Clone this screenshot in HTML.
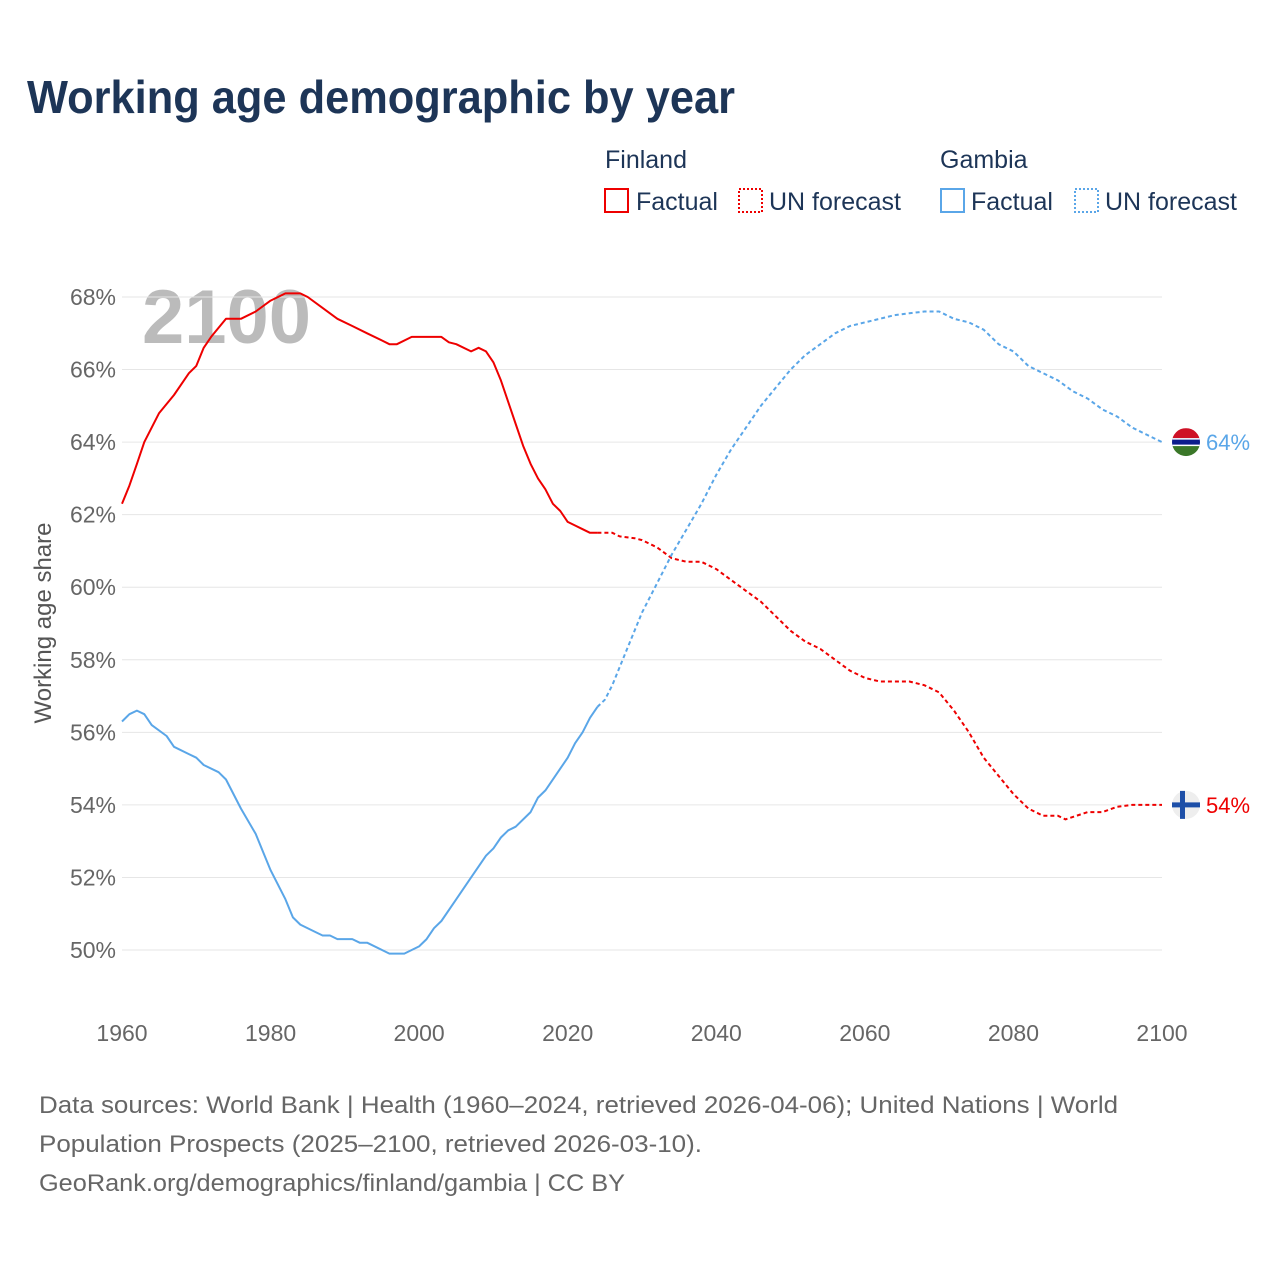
<!DOCTYPE html>
<html><head><meta charset="utf-8"><style>
body{margin:0;background:#fff;font-family:"Liberation Sans",sans-serif}
#wrap{position:relative;width:1280px;height:1280px}
</style></head><body>
<div id="wrap">
<svg id="svg" width="1280" height="1280" xmlns="http://www.w3.org/2000/svg">
<text x="27" y="113" font-size="46" font-weight="bold" fill="#1d3557" textLength="708" lengthAdjust="spacingAndGlyphs">Working age demographic by year</text>
<g font-size="25" fill="#1d3557">
<text x="605" y="168">Finland</text>
<rect x="605" y="189" width="23" height="23" fill="none" stroke="#e00" stroke-width="2"/>
<text x="636" y="210">Factual</text>
<rect x="739" y="189" width="23" height="23" fill="none" stroke="#e00" stroke-width="2" stroke-dasharray="2,2"/>
<text x="769" y="210">UN forecast</text>
<text x="940" y="168">Gambia</text>
<rect x="941" y="189" width="23" height="23" fill="none" stroke="#5aa6e8" stroke-width="2"/>
<text x="971" y="210">Factual</text>
<rect x="1075" y="189" width="23" height="23" fill="none" stroke="#5aa6e8" stroke-width="2" stroke-dasharray="2,2"/>
<text x="1105" y="210">UN forecast</text>
</g>
<text transform="translate(51,623) rotate(-90)" text-anchor="middle" font-size="24" fill="#555">Working age share</text>
<text x="142" y="343" font-size="76" font-weight="bold" fill="#bbb">2100</text>
<g id="grid"></g><g id="lines"></g><g id="marks"></g>
<g font-size="24" fill="#666">
<text x="39" y="1113" textLength="1079" lengthAdjust="spacingAndGlyphs">Data sources: World Bank | Health (1960–2024, retrieved 2026-04-06); United Nations | World</text>
<text x="39" y="1152" textLength="663" lengthAdjust="spacingAndGlyphs">Population Prospects (2025–2100, retrieved 2026-03-10).</text>
<text x="39" y="1191" textLength="586" lengthAdjust="spacingAndGlyphs">GeoRank.org/demographics/finland/gambia | CC BY</text>
</g>
</svg></div>
<script>
const yTicks=[50,52,54,56,58,60,62,64,66,68];
const xTicks=[1960,1980,2000,2020,2040,2060,2080,2100];
const finFactYears=[1960,1961,1962,1963,1965,1967,1969,1970,1971,1972,1974,1976,1978,1980,1982,1984,1985,1987,1989,1991,1993,1995,1996,1997,1999,2001,2003,2004,2005,2007,2008,2009,2010,2011,2012,2013,2014,2015,2016,2017,2018,2019,2020,2021,2022,2023,2024];
const finFactVals=[62.3,62.8,63.4,64.0,64.8,65.3,65.9,66.1,66.6,66.9,67.4,67.4,67.6,67.9,68.1,68.1,68.0,67.7,67.4,67.2,67.0,66.8,66.7,66.7,66.9,66.9,66.9,66.75,66.7,66.5,66.6,66.5,66.2,65.7,65.1,64.5,63.9,63.4,63.0,62.7,62.3,62.1,61.8,61.7,61.6,61.5,61.5];
const finFcYears=[2024,2026,2027,2029,2030,2032,2034,2036,2038,2040,2042,2044,2046,2048,2050,2052,2054,2056,2058,2060,2062,2064,2066,2068,2070,2072,2074,2076,2078,2080,2082,2084,2086,2087,2090,2092,2094,2096,2100];
const finFcVals=[61.5,61.5,61.4,61.35,61.3,61.1,60.8,60.7,60.7,60.5,60.2,59.9,59.6,59.2,58.8,58.5,58.3,58.0,57.7,57.5,57.4,57.4,57.4,57.3,57.1,56.6,56.0,55.3,54.8,54.3,53.9,53.7,53.7,53.6,53.8,53.8,53.95,54.0,54.0];
const gamFactYears=[1960,1961,1962,1963,1964,1966,1967,1969,1970,1971,1973,1974,1976,1978,1979,1980,1982,1983,1984,1986,1987,1988,1989,1991,1992,1993,1995,1996,1998,2000,2001,2002,2003,2005,2007,2009,2010,2011,2012,2013,2015,2016,2017,2019,2020,2021,2022,2023,2024];
const gamFactVals=[56.3,56.5,56.6,56.5,56.2,55.9,55.6,55.4,55.3,55.1,54.9,54.7,53.9,53.2,52.7,52.2,51.4,50.9,50.7,50.5,50.4,50.4,50.3,50.3,50.2,50.2,50.0,49.9,49.9,50.1,50.3,50.6,50.8,51.4,52.0,52.6,52.8,53.1,53.3,53.4,53.8,54.2,54.4,55.0,55.3,55.7,56.0,56.4,56.7];
const gamFcYears=[2024,2025,2026,2028,2030,2032,2034,2036,2038,2040,2042,2044,2046,2048,2050,2052,2054,2056,2058,2060,2062,2064,2066,2068,2070,2072,2074,2076,2078,2080,2082,2084,2086,2088,2090,2092,2094,2096,2098,2100];
const gamFcVals=[56.7,56.9,57.3,58.3,59.3,60.1,60.9,61.6,62.3,63.1,63.8,64.4,65.0,65.5,66.0,66.4,66.7,67.0,67.2,67.3,67.4,67.5,67.55,67.6,67.6,67.4,67.3,67.1,66.7,66.5,66.1,65.9,65.7,65.4,65.2,64.9,64.7,64.4,64.2,64.0];
const X=y=>122+(y-1960)*(1040/140);
const Y=v=>950-(v-50)*(653/18);
const NS="http://www.w3.org/2000/svg";
function mk(tag,attrs,parent){const e=document.createElementNS(NS,tag);for(const k in attrs)e.setAttribute(k,attrs[k]);document.getElementById(parent).appendChild(e);return e;}
yTicks.forEach(t=>{
 const l=mk('line',{x1:122,x2:1162,y1:Y(t),y2:Y(t),stroke:'#e6e6e6','stroke-width':1},'grid');
 
 
 const tx=mk('text',{x:116,y:Y(t)+8,'text-anchor':'end','font-size':23,fill:'#666'},'grid');
 tx.textContent=t+'%';
 
 
});
xTicks.forEach(t=>{
 const tx=mk('text',{x:X(t),y:1041,'text-anchor':'middle','font-size':23,fill:'#666'},'grid');
 tx.textContent=t;
 
 
});
function line(xs,vs,color,dash,name){
 const d=xs.map((x,i)=>(i?'L':'M')+X(x).toFixed(1)+','+Y(vs[i]).toFixed(1)).join('');
 const p=mk('path',{d:d,fill:'none',stroke:color,'stroke-width':2,'stroke-linejoin':'round'},'lines');
 if(dash)p.setAttribute('stroke-dasharray',dash);
 
 
}
line(finFactYears,finFactVals,'#e00',null,'finland-factual-line');
line(finFcYears,finFcVals,'#e00','4,3','finland-forecast-line');
line(gamFactYears,gamFactVals,'#5aa6e8',null,'gambia-factual-line');
line(gamFcYears,gamFcVals,'#5aa6e8','4,3','gambia-forecast-line');
const gy=Y(gamFcVals[gamFcVals.length-1]), fy=Y(finFcVals[finFcVals.length-1]);
const g=mk('g',{},'marks');
g.innerHTML=`<clipPath id="cg"><circle cx="1186" cy="${gy}" r="14"/></clipPath><g clip-path="url(#cg)"><rect x="1172" y="${gy-14}" width="28" height="10" fill="#ce1126"/><rect x="1172" y="${gy-4}" width="28" height="8" fill="#0c1c8c"/><rect x="1172" y="${gy-4}" width="28" height="1.5" fill="#fff"/><rect x="1172" y="${gy+2.5}" width="28" height="1.5" fill="#fff"/><rect x="1172" y="${gy+4}" width="28" height="10" fill="#3a7728"/></g>`;
const f=mk('g',{},'marks');
f.innerHTML=`<circle cx="1186" cy="${fy}" r="14" fill="#eee"/><rect x="1172" y="${fy-2.5}" width="28" height="5" fill="#1d4fa8"/><rect x="1180" y="${fy-14}" width="5" height="28" fill="#1d4fa8"/>`;
const gl=mk('text',{x:1206,y:gy+8,'font-size':22,fill:'#5aa6e8'},'marks');gl.textContent=Math.round(gamFcVals[gamFcVals.length-1])+'%';


const fl=mk('text',{x:1206,y:fy+8,'font-size':22,fill:'#e00'},'marks');fl.textContent=Math.round(finFcVals[finFcVals.length-1])+'%';


</script>
</body></html>
